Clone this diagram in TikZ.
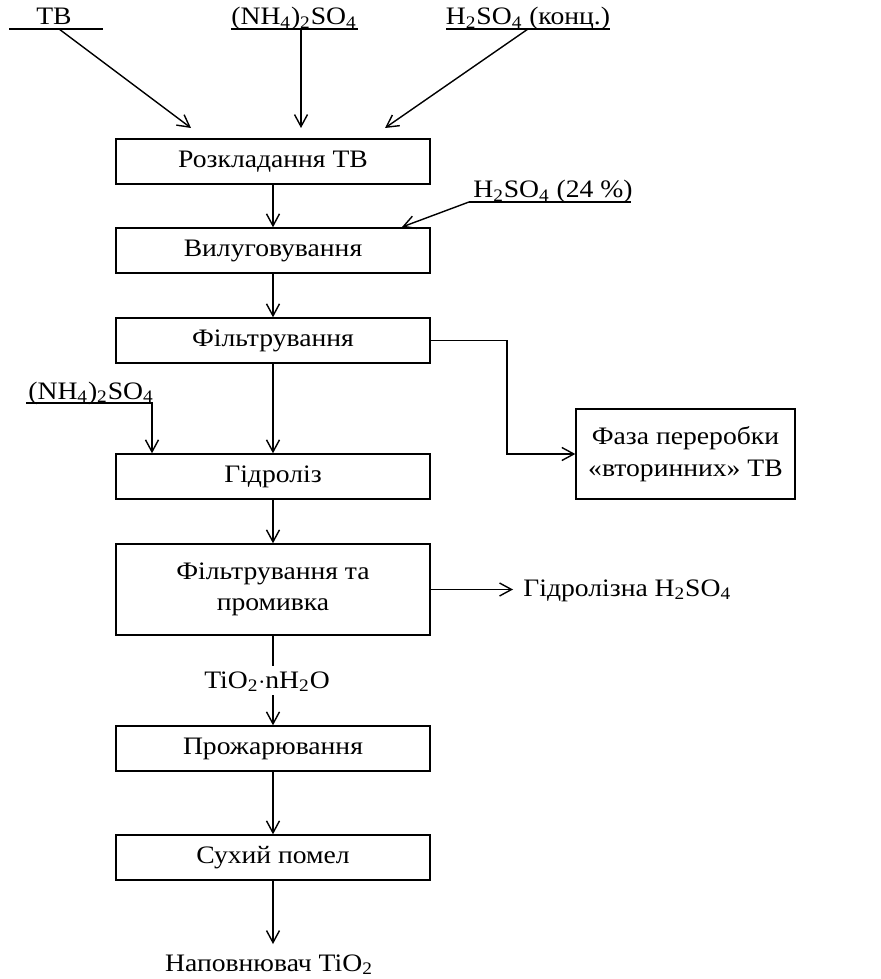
\documentclass[tikz,border=0pt]{standalone}
\usepackage{fontspec}
\setmainfont[FakeStretch=1.1]{Liberation Serif}
\usetikzlibrary{arrows.meta}
\begin{document}
\begin{tikzpicture}[x=0.02cm,y=-0.02cm,
  every node/.style={font=\fontsize{14.3}{15}\selectfont, inner sep=0pt},
  box/.style={draw, line width=0.8pt, minimum width=6.28cm, minimum height=0.9cm, align=center},
  lbl/.style={anchor=base},
  ln/.style={line width=0.8pt},
  arr/.style={line width=0.8pt, -{Straight Barb[length=2.4mm,width=2.6mm]}}]
\useasboundingbox (0,0) rectangle (881,979);
% main boxes
\node[box] (b1) at (273,161.5) {Розкладання ТВ};
\node[box] (b2) at (273,250.5) {Вилуговування};
\node[box] (b3) at (273,340.5) {Фільтрування};
\node[box] (b4) at (273,476.5) {Гідроліз};
\node[box, minimum height=1.82cm] (b5) at (273,589.5) {Фільтрування та\\[3pt]промивка};
\node[box] (b6) at (273,748.5) {Прожарювання};
\node[box] (b7) at (273,857.5) {Сухий помел};
\node[draw, line width=0.8pt, minimum width=4.38cm, minimum height=1.8cm, align=center] (fz) at (685.5,454) {Фаза переробки\\[3pt]«вторинних» ТВ};
% top inputs
\node[lbl] (tb) at (54,25) {ТВ};
\node[lbl] (nh) at (294,25) {(NH\textsubscript{4})\textsubscript{2}SO\textsubscript{4}};
\node[lbl] (hk) at (528,25) {H\textsubscript{2}SO\textsubscript{4} (конц.)};
\coordinate (tbl) at (9,29); \coordinate (tbr) at (103,29); \coordinate (tbs) at (59,29);
\coordinate (nhl) at (231,29); \coordinate (nhr) at (358,29); \coordinate (nhs) at (301,29);
\coordinate (hkl) at (446,29); \coordinate (hkr) at (610,29); \coordinate (hks) at (528,29);
\draw[ln] (tbl) -- (tbr);
\draw[ln] (nhl) -- (nhr);
\draw[ln] (hkl) -- (hkr);
\coordinate (e1) at (191,128); \coordinate (e2) at (301,128); \coordinate (e3) at (385,128);
\draw[arr] (tbs) -- (e1);
\draw[arr] (nhs) -- (e2);
\draw[arr] (hks) -- (e3);
% 24% acid
\node[lbl] (h24) at (553,198) {H\textsubscript{2}SO\textsubscript{4} (24 \%)};
\coordinate (h24l) at (469,202); \coordinate (h24r) at (631,202);
\draw[ln] (h24l) -- (h24r);
\coordinate (e4) at (402,227);
\draw[arr] (h24l) -- (e4);
% main flow
\draw[arr] (b1) -- (b2);
\draw[arr] (b2) -- (b3);
\draw[arr] (b3) -- (b4);
\draw[arr] (b4) -- (b5);
% branch to phase box
\draw[arr] (b3.east) -| (507,400) |- (fz.west);
% left ammonium sulfate
\node[lbl] (nh2) at (91,399) {(NH\textsubscript{4})\textsubscript{2}SO\textsubscript{4}};
\coordinate (nh2l) at (26,403); \coordinate (nh2r) at (152,403);
\draw[arr] (nh2l) -- (nh2r) -- (nh2r |- b4.north);
% hydrolysis acid
\node[anchor=base west] (gh) at (523,596) {Гідролізна H\textsubscript{2}SO\textsubscript{4}};
\coordinate (ghe) at (513,589.5);
\draw[arr] (b5.east) -- (ghe);
% TiO2 nH2O
\node[lbl] (ti) at (267,688) {TiO\textsubscript{2}$\cdot$nH\textsubscript{2}O};
\coordinate (tit) at (273,666); \coordinate (tib) at (273,695);
\draw[ln] (b5.south) -- (tit);
\draw[arr] (tib) -- (b6.north);
\draw[arr] (b6) -- (b7);
% product
\node[lbl] (pr) at (269,971) {Наповнювач TiO\textsubscript{2}};
\coordinate (pre) at (273,944);
\draw[arr] (b7.south) -- (pre);
\end{tikzpicture}
\end{document}
